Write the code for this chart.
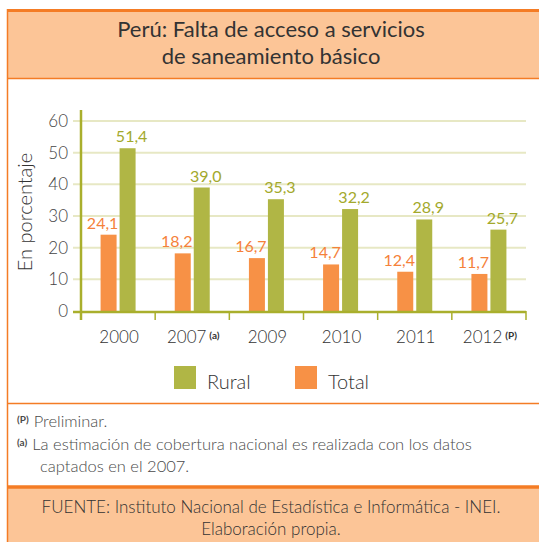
<!DOCTYPE html>
<html>
<head>
<meta charset="utf-8">
<script src="https://cdn.jsdelivr.net/npm/d3@7"></script>
<style>
  body { margin: 0; background: #fff; }
  svg { display: block; font-family: Lato, 'Open Sans', sans-serif; font-weight: 300; }
</style>
</head>
<body>
<div id="chart"></div>
<script>
const years = ['2000', '2007', '2009', '2010', '2011', '2012'];
const yearNotes = ['', '(a)', '', '', '', '(P)'];
const totalValues = [24.1, 18.2, 16.7, 14.7, 12.4, 11.7];
const ruralValues = [51.4, 39.0, 35.3, 32.2, 28.9, 25.7];
const yTicks = [0, 10, 20, 30, 40, 50, 60];

const size = { width: 539, height: 542 };
const margin = { top: 110, right: 13, bottom: 231, left: 81 };

const colors = {
  orange: '#f47c25',
  peach: '#fcc597',
  total: '#f79146',
  rural: '#b0b645',
  totalText: '#f5813a',
  ruralText: '#a3a92c',
  grid: '#e7e8c4',
  axis: '#a9af2c',
  text: '#333333',
};

const fmt = (v) => v.toFixed(1).replace('.', ',');

const svg = d3
  .select('#chart')
  .append('svg')
  .attr('width', size.width)
  .attr('height', size.height);

// frame: title band and bottom band
svg
  .append('rect')
  .attr('x', 7)
  .attr('y', 10)
  .attr('width', size.width - 7)
  .attr('height', 68)
  .attr('fill', colors.peach);

svg
  .append('rect')
  .attr('x', 7)
  .attr('y', 486)
  .attr('width', size.width - 7)
  .attr('height', size.height - 486)
  .attr('fill', colors.peach);

svg
  .append('line')
  .attr('x1', 7)
  .attr('x2', size.width)
  .attr('y1', 10.5)
  .attr('y2', 10.5)
  .attr('stroke', colors.orange)
  .attr('stroke-width', 3);

svg
  .append('line')
  .attr('x1', 7.5)
  .attr('x2', 7.5)
  .attr('y1', 9)
  .attr('y2', size.height)
  .attr('stroke', colors.orange)
  .attr('stroke-width', 1.5);

[78.5, 403.5].forEach((yy) => {
  svg
    .append('line')
    .attr('x1', 7)
    .attr('x2', size.width)
    .attr('y1', yy)
    .attr('y2', yy)
    .attr('stroke', colors.orange)
    .attr('stroke-width', 1.5);
});

svg
  .append('line')
  .attr('x1', 7)
  .attr('x2', size.width)
  .attr('y1', 487)
  .attr('y2', 487)
  .attr('stroke', colors.orange)
  .attr('stroke-width', 3.5);

// title
const title = svg
  .append('text')
  .attr('text-anchor', 'middle')
  .attr('fill', colors.text)
  .style('font-size', '22px')
  .style('font-weight', 400);
title.append('tspan').attr('x', 271).attr('y', 37).text('Perú: Falta de acceso a servicios');
title.append('tspan').attr('x', 271).attr('y', 64).text('de saneamiento básico');

// scales
const x = d3
  .scaleBand()
  .domain(years)
  .range([margin.left, size.width - margin.right]);

const y = d3
  .scaleLinear()
  .domain([0, 60])
  .range([size.height - margin.bottom, 121]);

const barW = 16;
const gap = 3;

// grid
svg
  .append('g')
  .selectAll('line')
  .data(yTicks.slice(1))
  .join('line')
  .attr('x1', 73)
  .attr('x2', size.width - margin.right)
  .attr('y1', (d) => y(d))
  .attr('y2', (d) => y(d))
  .attr('stroke', colors.grid)
  .attr('stroke-width', 2);

// y tick labels
svg
  .append('g')
  .selectAll('text')
  .data(yTicks)
  .join('text')
  .attr('x', 68)
  .attr('y', (d) => y(d) + 6)
  .attr('text-anchor', 'end')
  .attr('fill', '#444')
  .style('font-size', '17px')
  .text((d) => d);

svg
  .append('text')
  .attr('transform', `translate(32, 212) rotate(-90)`)
  .attr('text-anchor', 'middle')
  .attr('fill', colors.text)
  .style('font-size', '20px')
  .text('En porcentaje');

// bars
const groups = svg
  .append('g')
  .selectAll('g')
  .data(years)
  .join('g')
  .attr('transform', (d) => `translate(${x(d) + x.bandwidth() / 2}, 0)`);

groups
  .append('rect')
  .attr('x', -barW - gap / 2)
  .attr('y', (d, i) => y(totalValues[i]))
  .attr('width', barW)
  .attr('height', (d, i) => y(0) - y(totalValues[i]))
  .attr('fill', colors.total);

groups
  .append('rect')
  .attr('x', gap / 2)
  .attr('y', (d, i) => y(ruralValues[i]))
  .attr('width', barW)
  .attr('height', (d, i) => y(0) - y(ruralValues[i]))
  .attr('fill', colors.rural);

groups
  .append('text')
  .attr('x', -barW / 2 - gap / 2 - 6)
  .attr('y', (d, i) => y(totalValues[i]) - 6)
  .attr('text-anchor', 'middle')
  .attr('fill', colors.totalText)
  .style('font-size', '16px')
  .style('font-weight', 400)
  .text((d, i) => fmt(totalValues[i]));

groups
  .append('text')
  .attr('x', barW / 2 + gap / 2 + 4)
  .attr('y', (d, i) => y(ruralValues[i]) - 6)
  .attr('text-anchor', 'middle')
  .attr('fill', colors.ruralText)
  .style('font-size', '16px')
  .style('font-weight', 400)
  .text((d, i) => fmt(ruralValues[i]));

// axes
svg
  .append('line')
  .attr('x1', 73)
  .attr('x2', size.width - margin.right)
  .attr('y1', y(0) + 1)
  .attr('y2', y(0) + 1)
  .attr('stroke', colors.axis)
  .attr('stroke-width', 2.5);

svg
  .append('line')
  .attr('x1', margin.left)
  .attr('x2', margin.left)
  .attr('y1', 110)
  .attr('y2', 320)
  .attr('stroke', colors.axis)
  .attr('stroke-width', 2.5);

svg
  .append('g')
  .selectAll('line')
  .data(years)
  .join('line')
  .attr('x1', (d) => x(d) + x.bandwidth())
  .attr('x2', (d) => x(d) + x.bandwidth())
  .attr('y1', y(0))
  .attr('y2', 320)
  .attr('stroke', colors.axis)
  .attr('stroke-width', 1.5);

const xLabels = svg
  .append('g')
  .selectAll('text')
  .data(years)
  .join('text')
  .attr('x', (d) => x(d) + x.bandwidth() / 2 + 1)
  .attr('y', 343)
  .attr('text-anchor', 'middle')
  .attr('fill', colors.text)
  .style('font-size', '17px');

xLabels.append('tspan').text((d) => d);
xLabels
  .append('tspan')
  .attr('dx', 3)
  .attr('dy', -4)
  .style('font-size', '10px')
  .style('font-weight', 'bold')
  .text((d, i) => yearNotes[i]);

// legend
const legendItems = [
  { label: 'Rural', color: colors.rural, x: 174 },
  { label: 'Total', color: colors.total, x: 295 },
];
const legend = svg.append('g').selectAll('g').data(legendItems).join('g');
legend
  .append('rect')
  .attr('x', (d) => d.x)
  .attr('y', 366)
  .attr('width', 22)
  .attr('height', 23)
  .attr('fill', (d) => d.color);
legend
  .append('text')
  .attr('x', (d) => d.x + 33)
  .attr('y', 389)
  .attr('fill', colors.text)
  .style('font-size', '20px')
  .text((d) => d.label);

// footnotes
const notes = svg.append('g').attr('fill', '#4a4a4a').style('font-size', '16.5px');
const n1 = notes.append('text').attr('x', 17).attr('y', 427);
n1.append('tspan').attr('dy', -4).style('font-size', '10px').style('font-weight', 'bold').text('(P)');
n1.append('tspan').attr('dx', 5).attr('dy', 4).text('Preliminar.');
const n2 = notes.append('text').attr('x', 17).attr('y', 450);
n2.append('tspan').attr('dy', -4).style('font-size', '10px').style('font-weight', 'bold').text('(a)');
n2.append('tspan')
  .attr('dx', 5)
  .attr('dy', 4)
  .text('La estimación de cobertura nacional es realizada con los datos');
notes.append('text').attr('x', 40).attr('y', 472).text('captados en el 2007.');

// source
const src = svg
  .append('text')
  .attr('text-anchor', 'middle')
  .attr('fill', colors.text)
  .style('font-size', '17px');
src.append('tspan').attr('x', 271).attr('y', 513).text('FUENTE: Instituto Nacional de Estadística e Informática - INEI.');
src.append('tspan').attr('x', 271).attr('y', 535).text('Elaboración propia.');
</script>
</body>
</html>
